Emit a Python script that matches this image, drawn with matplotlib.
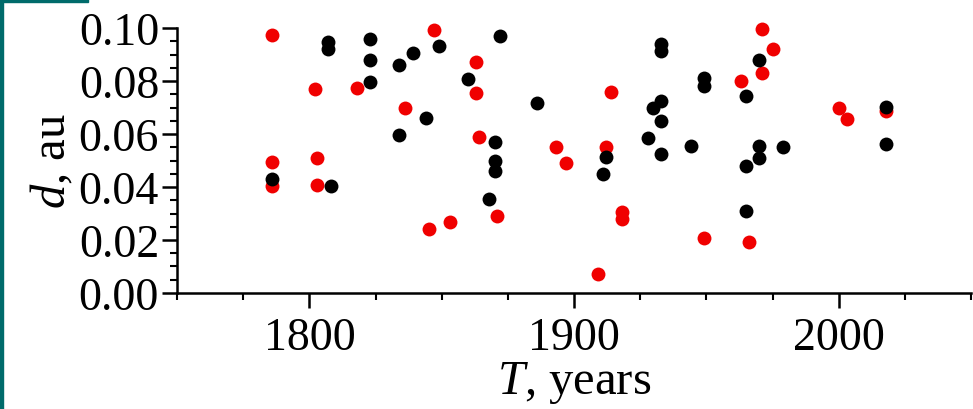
import matplotlib
matplotlib.use("Agg")
import matplotlib.pyplot as plt
from matplotlib.patches import Rectangle
from matplotlib.ticker import MultipleLocator, FormatStrFormatter

plt.rcParams["font.family"] = ["Liberation Serif", "DejaVu Serif"]
plt.rcParams["mathtext.fontset"] = "custom"
plt.rcParams["mathtext.rm"] = "Liberation Serif"
plt.rcParams["mathtext.it"] = "Liberation Serif:italic"

# red set
red_T = [1786, 1786, 1786, 1802, 1803, 1803, 1818, 1836, 1847, 1845, 1853,
         1863, 1863, 1864, 1871, 1893, 1897, 1909, 1914, 1912, 1918, 1918,
         1949, 1963, 1966, 1971, 1971, 1975, 2000, 2003, 2018]
red_d = [0.0975, 0.0494, 0.0402, 0.0771, 0.0509, 0.0408, 0.0773, 0.0698, 0.0994, 0.0242, 0.0267,
         0.0871, 0.0754, 0.0588, 0.0292, 0.0550, 0.0491, 0.0072, 0.0757, 0.0553, 0.0307, 0.0280,
         0.0208, 0.0801, 0.0194, 0.0995, 0.0831, 0.0922, 0.0698, 0.0655, 0.0687]

# black set
black_T = [1786, 1808, 1807, 1807, 1823, 1823, 1823, 1834, 1834, 1839, 1844,
           1849, 1860, 1872, 1870, 1870, 1870, 1868, 1886, 1912, 1911, 1928,
           1933, 1933, 1933, 1933, 1933, 1930, 1944, 1949, 1949, 1965, 1965,
           1965, 1970, 1970, 1970, 1979, 2018, 2018]
black_d = [0.0431, 0.0405, 0.0947, 0.0922, 0.0960, 0.0878, 0.0798, 0.0859, 0.0597, 0.0905, 0.0660,
           0.0934, 0.0808, 0.0970, 0.0569, 0.0500, 0.0459, 0.0355, 0.0718, 0.0512, 0.0451, 0.0585,
           0.0941, 0.0912, 0.0726, 0.0648, 0.0525, 0.0699, 0.0555, 0.0812, 0.0781, 0.0744, 0.0481,
           0.0311, 0.0556, 0.0511, 0.0881, 0.0553, 0.0701, 0.0563]

fig = plt.figure(figsize=(9.73, 4.10), dpi=100)
ax = fig.add_axes([0.182, 0.283, 0.816, 0.646])

ax.plot(red_T, red_d, "o", color="#f00000", markersize=10, markeredgewidth=0, clip_on=False)
ax.plot(black_T, black_d, "o", color="black", markersize=10, markeredgewidth=0, clip_on=False)

ax.set_xlim(1750, 2050)
ax.set_ylim(0, 0.10)
ax.xaxis.set_major_locator(MultipleLocator(100))
ax.xaxis.set_minor_locator(MultipleLocator(25))
ax.yaxis.set_major_locator(MultipleLocator(0.02))
ax.yaxis.set_minor_locator(MultipleLocator(0.005))
ax.yaxis.set_major_formatter(FormatStrFormatter("%.2f"))

for s in ["top", "right"]:
    ax.spines[s].set_visible(False)
for s in ["left", "bottom"]:
    ax.spines[s].set_linewidth(1.8)

ax.tick_params(which="major", direction="out", length=11, width=1.8, labelsize=33, pad=2)
ax.tick_params(which="minor", direction="out", length=5, width=1.5)
ax.tick_params(axis="x", which="major", pad=6)

ax.set_xlabel(r"$T$, years", fontsize=35, labelpad=0)
ax.set_ylabel(r"$d$, au", fontsize=35, labelpad=2)

# teal frame fragments from the source page
fig.patches.append(Rectangle((0, 0), 3 / 973, 1, transform=fig.transFigure,
                             color="#006b6b", zorder=10))
fig.patches.append(Rectangle((0, 1 - 3 / 410), 88 / 973, 3 / 410, transform=fig.transFigure,
                             color="#006b6b", zorder=10))

fig.savefig("out.png", dpi=100)
